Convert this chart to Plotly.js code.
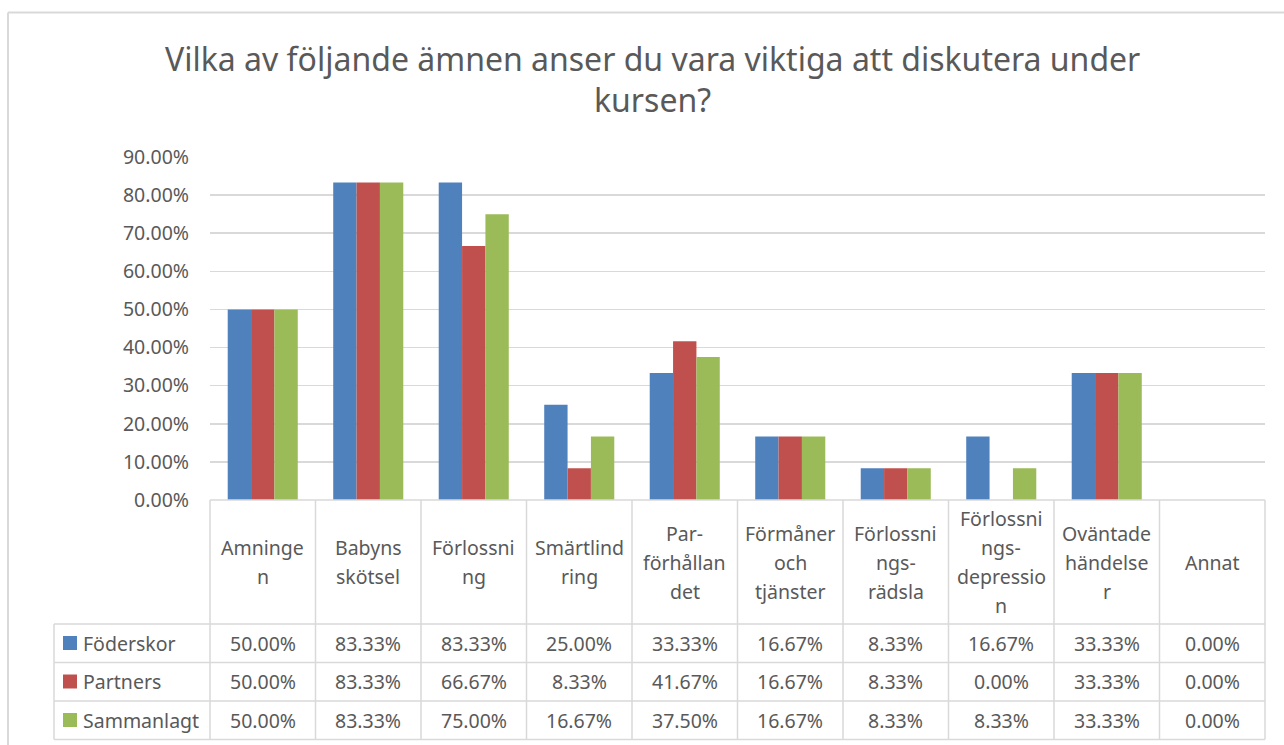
<!DOCTYPE html>
<html>
<head>
<meta charset="utf-8">
<script src="https://cdn.plot.ly/plotly-3.0.1.min.js"></script>
<style>html,body{margin:0;padding:0;background:#fff;}#chart{width:1284px;height:745px;}</style>
</head>
<body>
<div id="chart"></div>
<script>
// ---- data ----
const categories = ['Amningen','Babyns skötsel','Förlossning','Smärtlindring','Par-förhållandet','Förmåner och tjänster','Förlossningsrädsla','Förlossningsdepression','Oväntade händelser','Annat'];
const headerLabels = ['Amninge<br>n','Babyns<br>skötsel','Förlossni<br>ng','Smärtlind<br>ring','Par-<br>förhållan<br>det','Förmåner<br>och<br>tjänster','Förlossni<br>ngs-<br>rädsla','Förlossni<br>ngs-<br>depressio<br>n','Oväntade<br>händelse<br>r','Annat'];
const seriesNames = ['Föderskor','Partners','Sammanlagt'];
const foderskor  = [0.5, 0.8333, 0.8333, 0.25,   0.3333, 0.1667, 0.0833, 0.1667, 0.3333, 0];
const partners   = [0.5, 0.8333, 0.6667, 0.0833, 0.4167, 0.1667, 0.0833, 0,      0.3333, 0];
const sammanlagt = [0.5, 0.8333, 0.75,   0.1667, 0.375,  0.1667, 0.0833, 0.0833, 0.3333, 0];
const yTickVals = [0, 0.1, 0.2, 0.3, 0.4, 0.5, 0.6, 0.7, 0.8, 0.9];
const titleLines = ['Vilka av följande ämnen anser du vara viktiga att diskutera under', 'kursen?'];

// ---- styling ----
const colors = ['#4F81BD', '#C0504D', '#9BBB59'];
const series = [foderskor, partners, sammanlagt];
const FONT = 'Noto Sans, Open Sans, sans-serif';
const TXT = '#595959';
const LINE = '#D9D9D9';

// plot area in pixels
const L = 210, R = 1265, T = 157, B = 500;
const px = p => (p - L) / (R - L);
const py = p => (B - p) / (B - T);

const traces = series.map((vals, k) => ({
  type: 'bar',
  name: seriesNames[k],
  x: categories,
  y: vals,
  marker: {color: colors[k], line: {width: 0}},
  hoverinfo: 'x+y+name',
  showlegend: false
}));

const shapes = [];
const annotations = [];
const ln = (x0, y0, x1, y1, w) => shapes.push({type: 'line', xref: 'paper', yref: 'paper',
  x0: px(x0), y0: py(y0), x1: px(x1), y1: py(y1), line: {color: LINE, width: w || 1.5}});

// outer chart border
ln(8, 12.5, 1284, 12.5, 2);
ln(8, 12.5, 8, 745, 2);

// title (two lines)
const titleY = [58, 100];
titleLines.forEach((t, j) => annotations.push({xref: 'paper', yref: 'paper', x: px(652), y: py(titleY[j]), text: t,
  showarrow: false, xanchor: 'center', yanchor: 'middle', font: {family: FONT, size: 32, color: TXT}}));

// table lines
const rowLines = [624, 662.5, 701, 739.5];
ln(L, B, R, B);
rowLines.forEach(y => ln(54, y, R, y));
for (let i = 0; i <= categories.length; i++) {
  const xp = L + (R - L) * i / categories.length;
  ln(xp, B, xp, 739.5);
}
ln(54, 624, 54, 739.5);

// header labels
const headerCenter = 562, lineGap = 29;
headerLabels.forEach((lab, i) => {
  const lines = lab.split('<br>');
  lines.forEach((t, j) => {
    const yy = headerCenter + (j - (lines.length - 1) / 2) * lineGap;
    annotations.push({xref: 'x', yref: 'paper', x: categories[i], y: py(yy), text: t, showarrow: false,
      xanchor: 'center', yanchor: 'middle', font: {family: FONT, size: 19.5, color: TXT}});
  });
});

// rows: legend key + values
const rowCenters = [643, 681.5, 720];
series.forEach((vals, k) => {
  const yc = rowCenters[k];
  shapes.push({type: 'rect', xref: 'paper', yref: 'paper', x0: px(63), x1: px(77), y0: py(yc - 7), y1: py(yc + 7),
    fillcolor: colors[k], line: {width: 0}});
  annotations.push({xref: 'paper', yref: 'paper', x: px(81), y: py(yc), text: seriesNames[k], showarrow: false,
    xanchor: 'left', yanchor: 'middle', font: {family: FONT, size: 19.5, color: TXT}});
  vals.forEach((v, i) => {
    annotations.push({xref: 'x', yref: 'paper', x: categories[i], y: py(yc), text: (v * 100).toFixed(2) + '%',
      showarrow: false, xanchor: 'center', yanchor: 'middle', font: {family: FONT, size: 19.5, color: TXT}});
  });
});

const layout = {
  width: 1284, height: 745,
  margin: {l: L, r: 1284 - R, t: T, b: 745 - B, pad: 0},
  paper_bgcolor: '#ffffff', plot_bgcolor: '#ffffff',
  font: {family: FONT, color: TXT},
  barmode: 'group', bargap: 0.336, bargroupgap: 0,
  xaxis: {type: 'category', range: [-0.5, categories.length - 0.5], showticklabels: false, showgrid: false,
    zeroline: false, showline: false, ticks: ''},
  yaxis: {range: [0, 0.9], tickvals: yTickVals, tickformat: '.2%', showgrid: true, gridcolor: LINE, gridwidth: 1.5,
    zeroline: false, showline: false, ticks: '', ticklabelstandoff: 20,
    tickfont: {family: FONT, size: 19.5, color: TXT}},
  shapes: shapes,
  annotations: annotations,
  showlegend: false
};

Plotly.newPlot('chart', traces, layout, {displayModeBar: false, staticPlot: true});
</script>
</body>
</html>
